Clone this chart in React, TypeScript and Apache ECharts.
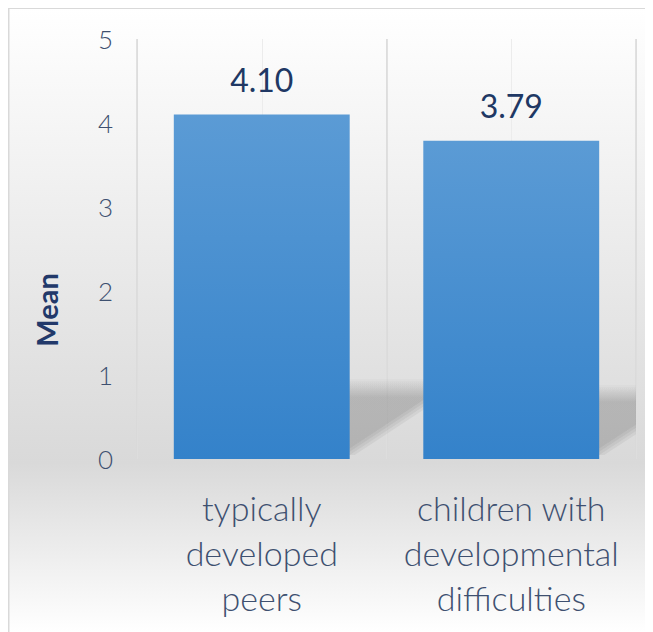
import React, { useEffect, useRef } from 'react';
import * as echarts from 'echarts';

const categories = ['typically\ndeveloped\npeers', 'children with\ndevelopmental\ndifficulties'];
const meanValues = [4.1, 3.79];
const yMin = 0;
const yMax = 5;
const yStep = 1;
const axisTitle = 'Mean';

export default function App() {
  const ref = useRef<HTMLDivElement>(null);

  useEffect(() => {
    const chart = echarts.init(ref.current!, null, { renderer: 'svg' });
    const font = 'Lato, "Open Sans", sans-serif';
    const shadowFill = new echarts.graphic.LinearGradient(0, 0, 0, 1, [
      { offset: 0, color: 'rgba(0,0,0,0)' },
      { offset: 0.25, color: 'rgba(0,0,0,0.05)' },
      { offset: 1, color: 'rgba(0,0,0,0.05)' },
    ]);
    const softOffsets = [-10, -5, 0, 5];
    chart.setOption({
      animation: false,
      graphic: [
        {
          type: 'rect',
          z: -100,
          silent: true,
          shape: { x: 0.75, y: 0.25, width: 700, height: 640 },
          style: {
            fill: new echarts.graphic.LinearGradient(0, 0, 0, 1, [
              { offset: 0, color: '#ffffff' },
              { offset: 0.71, color: '#d9d9d9' },
              { offset: 0.975, color: '#ffffff' },
              { offset: 1, color: '#ffffff' },
            ]),
            stroke: '#d9d9d9',
            lineWidth: 1.5,
          },
        },
        {
          type: 'text',
          x: 38,
          y: 302,
          rotation: Math.PI / 2,
          style: {
            text: axisTitle,
            fontSize: 29,
            fontWeight: 'bold',
            fontFamily: font,
            fill: '#22396a',
            align: 'center',
            verticalAlign: 'middle',
          },
        },
      ],
      grid: { left: 129, right: 17, top: 31, bottom: 173 },
      xAxis: [
        {
          type: 'category',
          data: categories,
          axisLine: { show: false },
          axisTick: { show: false },
          axisLabel: {
            interval: 0,
            fontSize: 34,
            lineHeight: 45,
            margin: 26,
            color: '#3e5070',
            fontWeight: 300,
            fontFamily: font,
          },
          splitLine: { show: true, lineStyle: { color: '#d9d9d9', width: 1.5 } },
          z: 1,
        },
        {
          type: 'value',
          position: 'top',
          min: 0,
          max: 4,
          interval: 1,
          axisLine: { show: false },
          axisTick: { show: false },
          axisLabel: { show: false },
          splitLine: { show: true, lineStyle: { color: '#ececec', width: 1 } },
          z: 0,
        },
      ],
      yAxis: {
        type: 'value',
        min: yMin,
        max: yMax,
        interval: yStep,
        axisLine: { show: false },
        axisTick: { show: false },
        splitLine: { show: false },
        axisLabel: {
          margin: 24,
          fontSize: 26,
          color: '#3e5070',
          fontWeight: 300,
          fontFamily: font,
        },
      },
      series: [
        {
          type: 'custom',
          z: 1,
          clip: true,
          silent: true,
          data: meanValues.map((v, i) => [i, v]),
          renderItem: (params: any, api: any) => {
            const i = api.value(0);
            const v = api.value(1);
            const base = api.coord([i, 0]);
            const topFull = api.coord([i, v]);
            const top = api.coord([i, v * 0.235]);
            const bw = api.size([1, 0])[0] * 0.705;
            const x0 = base[0] - bw / 2;
            const x1 = base[0] + bw / 2;
            const dx = (base[1] - topFull[1]) * 0.34;
            return {
              type: 'group',
              children: softOffsets.map((o) => ({
                type: 'polygon',
                shape: {
                  points: [
                    [x0, base[1] - 4],
                    [x1 + o, base[1] - 4],
                    [x1 + dx + o, top[1]],
                    [x0 + dx, top[1]],
                  ],
                },
                style: { fill: shadowFill },
              })),
            };
          },
        },
        {
          type: 'bar',
          z: 3,
          data: meanValues,
          barWidth: '70.5%',
          itemStyle: {
            color: new echarts.graphic.LinearGradient(0, 0, 0, 1, [
              { offset: 0, color: '#5b9bd5' },
              { offset: 1, color: '#3482ca' },
            ]),
          },
          label: {
            show: true,
            position: 'top',
            distance: 19,
            formatter: (p: any) => Number(p.value).toFixed(2),
            fontSize: 32,
            color: '#203864',
            fontFamily: font,
          },
        },
      ],
    });
    return () => chart.dispose();
  }, []);

  return <div ref={ref} style={{ width: 645, height: 624 }} />;
}
